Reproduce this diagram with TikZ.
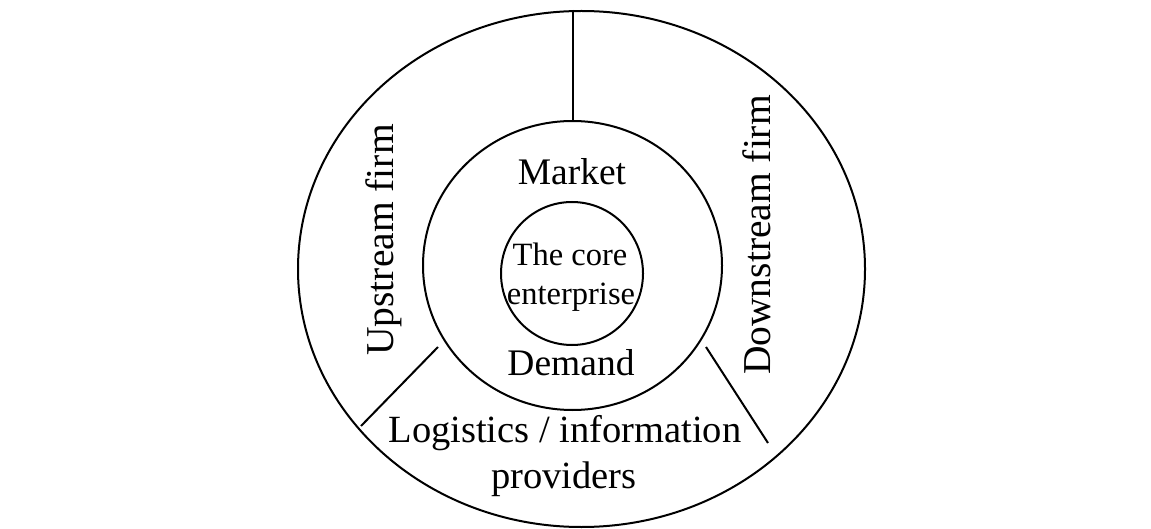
\documentclass[tikz,border=0pt]{standalone}
\usepackage{fontspec}
\setmainfont{Liberation Serif}
\usetikzlibrary{shapes.geometric}
\begin{document}
\begin{tikzpicture}[x=1pt,y=-1pt,
  ring/.style={draw, line width=2pt, ellipse, inner sep=0pt},
  divider/.style={draw, line width=2pt},
  bigtxt/.style={font=\fontsize{37.5}{40}\selectfont, anchor=base, inner sep=0pt},
  sidetxt/.style={font=\fontsize{39.5}{42}\selectfont, anchor=base, inner sep=0pt, rotate=90},
  logtxt/.style={font=\fontsize{38.5}{42}\selectfont, anchor=base, inner sep=0pt},
  coretxt/.style={font=\fontsize{32.5}{39}\selectfont, anchor=base, inner sep=0pt}]
\useasboundingbox (0,0) rectangle (1151,529);
\node[ring, minimum width=567pt, minimum height=516pt] (outer) at (581.5,269) {};
\node[ring, minimum width=299pt, minimum height=289pt] (middle) at (572.5,265.5) {};
\node[ring, minimum width=142pt, minimum height=143pt] (inner) at (572,273.5) {};
\coordinate (vt) at (573,10);
\coordinate (vb) at (573,121);
\coordinate (l1) at (438,347);
\coordinate (l2) at (361,426);
\coordinate (r1) at (706,347);
\coordinate (r2) at (768,443);
\draw[divider] (vt) -- (vb);
\draw[divider] (l1) -- (l2);
\draw[divider] (r1) -- (r2);
\node[bigtxt] (market) at (572,185) {Market};
\node[coretxt] (core1) at (570,266) {The core};
\node[coretxt] (core2) at (571,305) {enterprise};
\node[bigtxt] (demand) at (571,375) {Demand};
\node[logtxt] (log1) at (565,442) {Logistics / information};
\node[logtxt] (log2) at (564,488) {providers};
\node[sidetxt] (up) at (393,240) {Upstream firm};
\node[sidetxt] (down) at (770,235) {Downstream firm};
\end{tikzpicture}
\end{document}
